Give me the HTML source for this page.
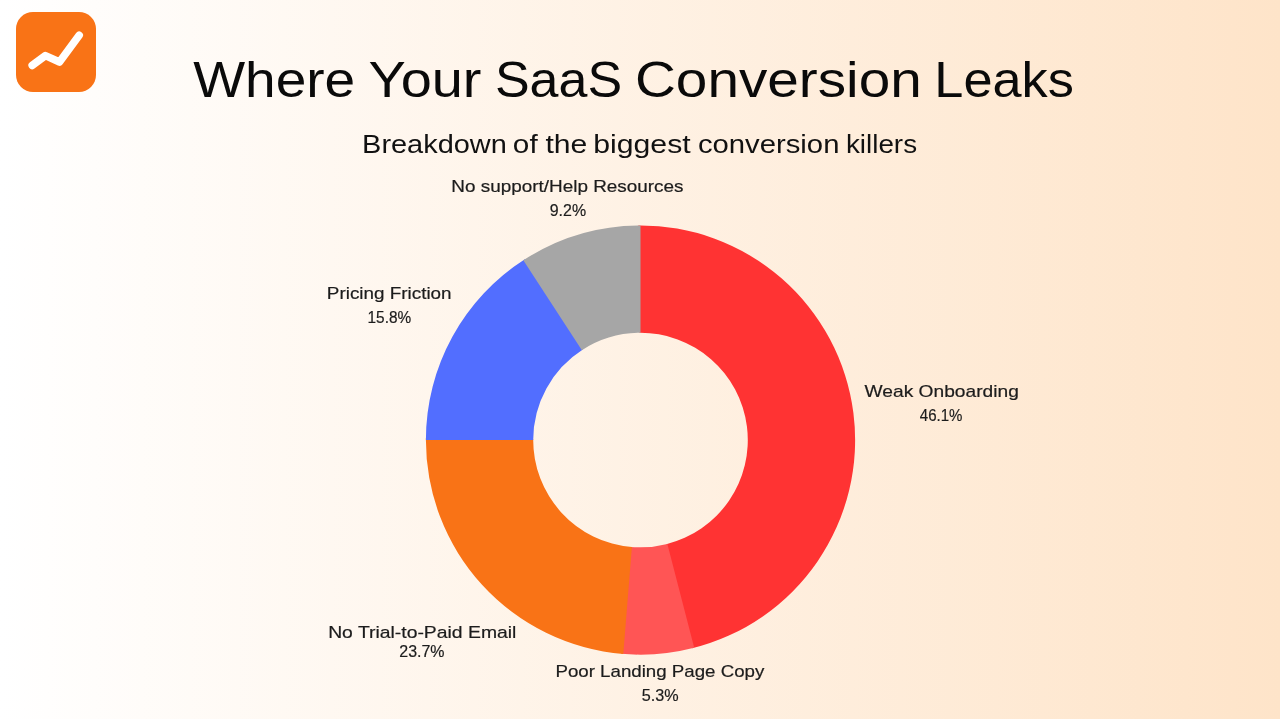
<!DOCTYPE html>
<html><head><meta charset="utf-8">
<style>
html,body{margin:0;padding:0;}
body{width:1280px;height:719px;overflow:hidden;position:relative;
background:linear-gradient(to right,#FFFFFF 0%,#FEE4C9 100%);
font-family:"Liberation Sans",sans-serif;}
.logo{position:absolute;left:15.8px;top:11.8px;width:80px;height:80px;border-radius:17px;background:#F97316;}
.logo svg{position:absolute;left:0;top:0;}
svg.main{position:absolute;left:0;top:0;will-change:transform;}
</style></head><body>
<div class="logo"><svg width="80" height="80" viewBox="0 0 80 80"><polyline points="16.2,53.4 29.4,43.6 43.5,50.0 63.2,23.2" fill="none" stroke="#FFFFFF" stroke-width="7.6" stroke-linecap="round" stroke-linejoin="round"/></svg></div>
<svg class="main" width="1280" height="719" viewBox="0 0 1280 719" font-family="Liberation Sans, sans-serif">
<path d="M638.25,225.46 A214.6,214.6 0 0 1 692.05,648.37 L666.28,544.21 A107.3,107.3 0 0 0 639.38,332.76 Z" fill="#FF3333"/><path d="M694.23,647.81 A214.6,214.6 0 0 1 621.05,653.77 L630.78,546.91 A107.3,107.3 0 0 0 667.37,543.93 Z" fill="#FF5555"/><path d="M623.29,653.96 A214.6,214.6 0 0 1 425.91,437.80 L533.21,438.93 A107.3,107.3 0 0 0 631.89,547.00 Z" fill="#F97316"/><path d="M425.90,440.05 A214.6,214.6 0 0 1 525.20,259.06 L582.85,349.55 A107.3,107.3 0 0 0 533.20,440.05 Z" fill="#526EFF"/><path d="M523.31,260.28 A214.6,214.6 0 0 1 640.50,225.45 L640.50,332.75 A107.3,107.3 0 0 0 581.90,350.16 Z" fill="#A6A6A6"/>
<text x="193.19" y="97.10" font-size="50.8" fill="#0a0a0a" textLength="162.02" lengthAdjust="spacingAndGlyphs">Where</text><text x="368.51" y="97.10" font-size="50.8" fill="#0a0a0a" textLength="112.94" lengthAdjust="spacingAndGlyphs">Your</text><text x="494.93" y="97.10" font-size="50.8" fill="#0a0a0a" textLength="127.17" lengthAdjust="spacingAndGlyphs">SaaS</text><text x="634.93" y="97.10" font-size="50.8" fill="#0a0a0a" textLength="286.78" lengthAdjust="spacingAndGlyphs">Conversion</text><text x="934.37" y="97.10" font-size="50.8" fill="#0a0a0a" textLength="139.58" lengthAdjust="spacingAndGlyphs">Leaks</text><text x="362.11" y="153.40" font-size="25.2" fill="#111111" textLength="144.72" lengthAdjust="spacingAndGlyphs">Breakdown</text><text x="512.89" y="153.40" font-size="25.2" fill="#111111" textLength="24.77" lengthAdjust="spacingAndGlyphs">of</text><text x="545.46" y="153.40" font-size="25.2" fill="#111111" textLength="41.90" lengthAdjust="spacingAndGlyphs">the</text><text x="593.22" y="153.40" font-size="25.2" fill="#111111" textLength="97.45" lengthAdjust="spacingAndGlyphs">biggest</text><text x="697.90" y="153.40" font-size="25.2" fill="#111111" textLength="141.52" lengthAdjust="spacingAndGlyphs">conversion</text><text x="845.98" y="153.40" font-size="25.2" fill="#111111" textLength="71.07" lengthAdjust="spacingAndGlyphs">killers</text><text x="451.36" y="191.80" font-size="16.4" fill="#1c1c1c" stroke="#1c1c1c" stroke-width="0.2" textLength="232.16" lengthAdjust="spacingAndGlyphs">No support/Help Resources</text><text x="549.74" y="215.70" font-size="16.4" fill="#1c1c1c" stroke="#1c1c1c" stroke-width="0.2" textLength="36.33" lengthAdjust="spacingAndGlyphs">9.2%</text><text x="326.89" y="298.60" font-size="16.4" fill="#1c1c1c" stroke="#1c1c1c" stroke-width="0.2" textLength="124.67" lengthAdjust="spacingAndGlyphs">Pricing Friction</text><text x="367.51" y="322.80" font-size="16.4" fill="#1c1c1c" stroke="#1c1c1c" stroke-width="0.2" textLength="43.69" lengthAdjust="spacingAndGlyphs">15.8%</text><text x="864.62" y="396.90" font-size="16.4" fill="#1c1c1c" stroke="#1c1c1c" stroke-width="0.2" textLength="154.25" lengthAdjust="spacingAndGlyphs">Weak Onboarding</text><text x="919.79" y="420.80" font-size="16.4" fill="#1c1c1c" stroke="#1c1c1c" stroke-width="0.2" textLength="42.72" lengthAdjust="spacingAndGlyphs">46.1%</text><text x="328.15" y="637.50" font-size="16.4" fill="#1c1c1c" stroke="#1c1c1c" stroke-width="0.2" textLength="188.23" lengthAdjust="spacingAndGlyphs">No Trial-to-Paid Email</text><text x="399.26" y="656.80" font-size="16.4" fill="#1c1c1c" stroke="#1c1c1c" stroke-width="0.2" textLength="45.35" lengthAdjust="spacingAndGlyphs">23.7%</text><text x="555.44" y="677.00" font-size="16.4" fill="#1c1c1c" stroke="#1c1c1c" stroke-width="0.2" textLength="208.85" lengthAdjust="spacingAndGlyphs">Poor Landing Page Copy</text><text x="641.83" y="701.10" font-size="16.4" fill="#1c1c1c" stroke="#1c1c1c" stroke-width="0.2" textLength="36.88" lengthAdjust="spacingAndGlyphs">5.3%</text>
</svg>
</body></html>
